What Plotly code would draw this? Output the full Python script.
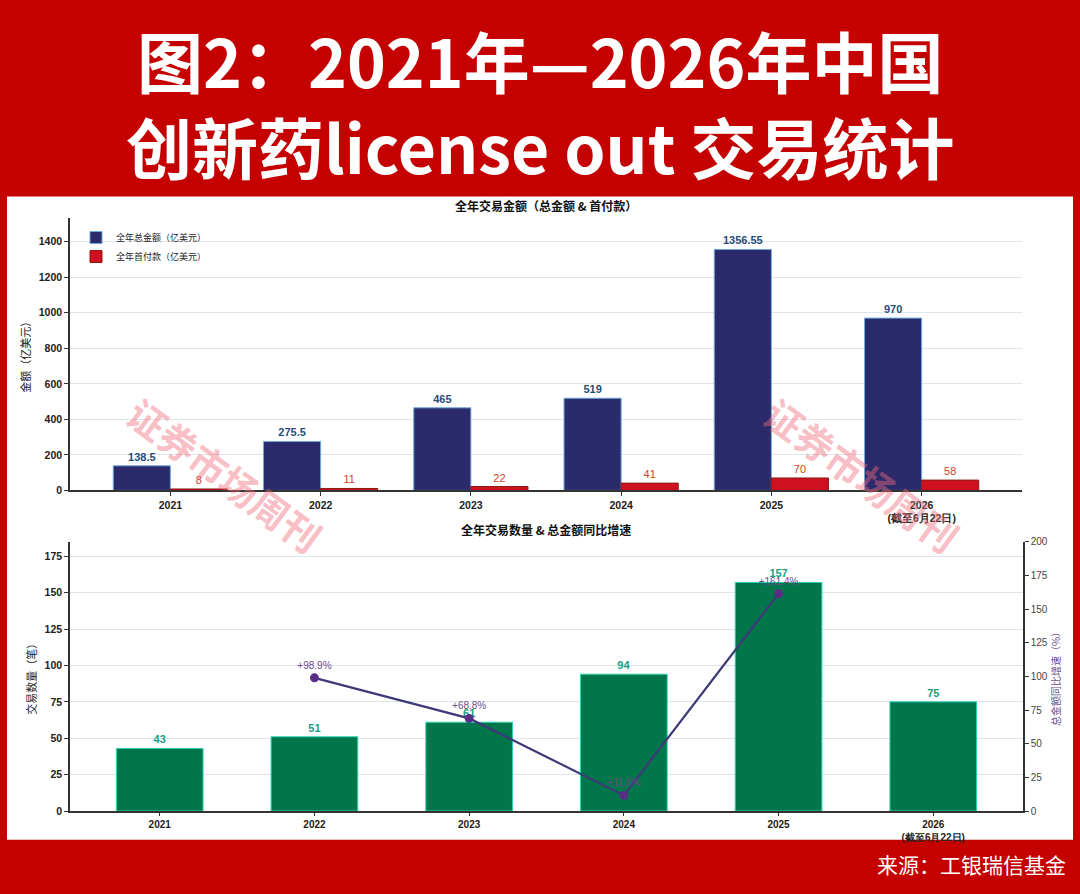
import plotly.graph_objects as go

W, H = 1080, 894

years = ["2021", "2022", "2023", "2024", "2025", "2026<br>(截至6月22日)"]
total_amount = [138.5, 275.5, 465, 519, 1356.55, 970]
upfront = [8, 11, 22, 41, 70, 58]
deal_count = [43, 51, 61, 94, 157, 75]
growth_years = ["2022", "2023", "2024", "2025"]
growth_pct = [98.9, 68.8, 11.6, 161.4]
growth_labels = ["+98.9%", "+68.8%", "+11.6%", "+161.4%"]

title_lines = ["图2：2021年—2026年中国", "创新药license out 交易统计"]
top_title = "全年交易金额（总金额 & 首付款）"
bottom_title = "全年交易数量 & 总金额同比增速"
source = "来源：工银瑞信基金"

RED_BG = "#c40000"
NAVY = "#2b2a6b"
BAR_RED = "#cf1020"
GREEN = "#00764a"
PURPLE_LINE = "#3e3a78"
FONT = "Noto Sans CJK SC"


def px_x(p):
    return p / W


def px_y(p):
    return 1 - p / H


fig = go.Figure()

fig.add_trace(go.Bar(
    x=years, y=total_amount, name="全年总金额（亿美元）",
    marker=dict(color=NAVY, line=dict(color="#6fa8dc", width=1)),
    text=[f"{v:g}" for v in total_amount], textposition="outside",
    textfont=dict(color="#1f4e79", size=11, family="Liberation Sans", weight="bold"),
    cliponaxis=False, xaxis="x", yaxis="y",
))
fig.add_trace(go.Bar(
    x=years, y=upfront, name="全年首付款（亿美元）",
    marker=dict(color=BAR_RED, line=dict(color="#8b1a10", width=1)),
    text=[f"{v:g}" for v in upfront], textposition="outside",
    textfont=dict(color="#d2401e", size=11, family="Liberation Sans"),
    cliponaxis=False, xaxis="x", yaxis="y",
))
fig.add_trace(go.Bar(
    x=years, y=deal_count, showlegend=False, width=0.56,
    marker=dict(color=GREEN, line=dict(color="#2ad0b0", width=1)),
    text=[str(v) for v in deal_count], textposition="outside",
    textfont=dict(color="#14a085", size=11, family="Liberation Sans", weight="bold"),
    cliponaxis=False, xaxis="x2", yaxis="y2",
))
fig.add_trace(go.Scatter(
    x=growth_years, y=growth_pct, mode="lines+markers+text", showlegend=False,
    line=dict(color=PURPLE_LINE, width=2.2),
    marker=dict(color="#5a2d86", size=9),
    text=growth_labels, textposition="top center",
    textfont=dict(color="#6a4c8c", size=10, family="Liberation Sans"),
    cliponaxis=False, xaxis="x3", yaxis="y3",
))

tickfont = dict(size=10.5, color="#222", family="Liberation Sans", weight="bold")
axis_common = dict(showline=True, linecolor="#333", linewidth=1.5, ticks="outside",
                   ticklen=4, tickcolor="#333", tickfont=tickfont)

fig.update_layout(
    width=W, height=H, margin=dict(l=0, r=0, t=0, b=0),
    paper_bgcolor=RED_BG, plot_bgcolor="white",
    barmode="group", bargap=0.24, bargroupgap=0,
    font=dict(family=FONT),
    showlegend=True,
    legend=dict(x=px_x(76), y=px_y(220), xanchor="left", yanchor="top",
                bgcolor="rgba(255,255,255,0)", font=dict(size=9, color="#222"),
                itemwidth=30, tracegroupgap=0),
    xaxis=dict(domain=[px_x(70), px_x(1022)], anchor="y", type="category",
               range=[-0.668, 5.668], showgrid=False, **axis_common),
    yaxis=dict(domain=[px_y(491), px_y(215)], anchor="x", range=[0, 1533], dtick=200,
               showgrid=True, gridcolor="#dfe5ec", gridwidth=1, zeroline=False,
               title=dict(text="金额（亿美元）", font=dict(size=11, color="#222"), standoff=6),
               **axis_common),
    xaxis2=dict(domain=[px_x(70), px_x(1023)], anchor="y2", type="category",
                range=[-0.58, 5.58], showgrid=False,
                showline=True, linecolor="#333", linewidth=1.5, ticks="outside",
                ticklen=3, tickcolor="#333",
                tickfont=dict(size=10, color="#222", family="Liberation Sans", weight="bold")),
    yaxis2=dict(domain=[px_y(816), px_y(543)], anchor="x2", range=[0, 185], dtick=25,
                showgrid=True, gridcolor="#dfe5ec", gridwidth=1, zeroline=False,
                title=dict(text="交易数量（笔）", font=dict(size=11, color="#222"), standoff=6),
                **axis_common),
    xaxis3=dict(domain=[px_x(70), px_x(1023)], anchor="y3", type="category",
                categoryorder="array", categoryarray=years,
                range=[-0.58, 5.58], visible=False, overlaying="x2"),
    yaxis3=dict(domain=[px_y(816), px_y(543)], anchor="x3", overlaying="y2", side="right",
                range=[0, 200], dtick=25, showgrid=False, zeroline=False,
                showline=True, linecolor="#333", linewidth=1.5, ticks="outside",
                ticklen=4, tickcolor="#333", tickfont=dict(size=10, color="#444", family="Liberation Sans"),
                title=dict(text="总金额同比增速（%）", font=dict(size=10, color="#6a4c8c"), standoff=6)),
)

fig.add_shape(type="rect", xref="paper", yref="paper",
              x0=px_x(7), x1=px_x(1073), y0=px_y(845), y1=px_y(193),
              fillcolor="white", line=dict(width=0), layer="below")

fig.add_annotation(text="<b>" + "<br>".join(title_lines) + "</b>", xref="paper", yref="paper",
                   x=0.5, y=px_y(97), xanchor="center", yanchor="middle", align="center",
                   showarrow=False, font=dict(size=66, color="white", family=FONT))

fig.add_annotation(text=f"<b>{top_title}</b>", xref="paper", yref="paper",
                   x=px_x(546), y=px_y(202), xanchor="center", yanchor="middle",
                   showarrow=False, font=dict(size=12, color="#111", family=FONT))
fig.add_annotation(text=f"<b>{bottom_title}</b>", xref="paper", yref="paper",
                   x=px_x(546), y=px_y(531), xanchor="center", yanchor="middle",
                   showarrow=False, font=dict(size=12, color="#111", family=FONT))
fig.add_annotation(text=source, xref="paper", yref="paper",
                   x=px_x(1068), y=px_y(870), xanchor="right", yanchor="middle",
                   showarrow=False, font=dict(size=21, color="white", family=FONT))

for cx, cy in [(225, 475), (862, 475)]:
    fig.add_annotation(text="<b>证券市场周刊</b>", xref="paper", yref="paper",
                       x=px_x(cx), y=px_y(cy), xanchor="center", yanchor="middle",
                       textangle=36, showarrow=False,
                       font=dict(size=38, color="rgba(240,110,125,0.45)", family=FONT))

fig.write_html("out.html")
